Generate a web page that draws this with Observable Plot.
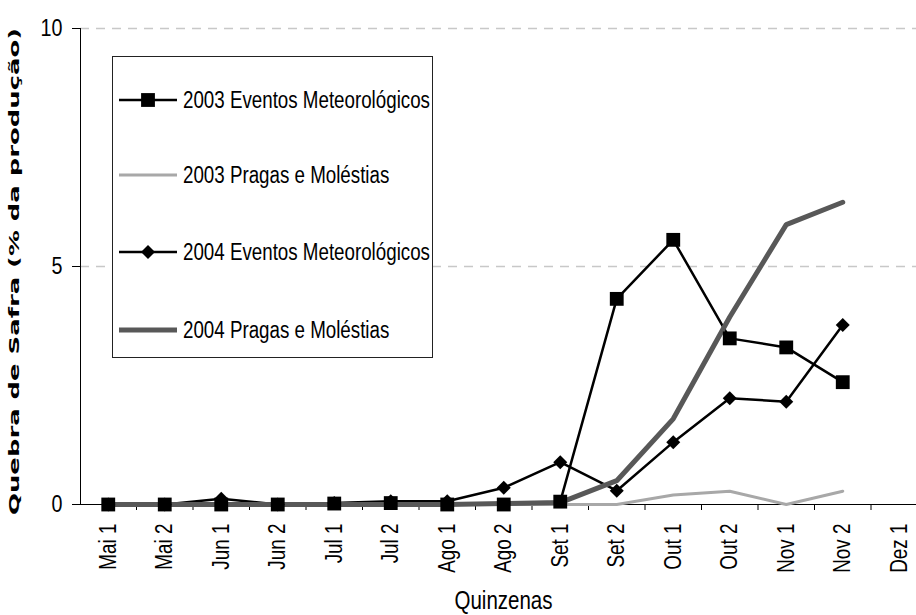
<!DOCTYPE html>
<html><head><meta charset="utf-8">
<script src="https://cdn.jsdelivr.net/npm/d3@7"></script>
<script src="https://cdn.jsdelivr.net/npm/@observablehq/plot@0.6"></script>
<style>
body{margin:0;overflow:hidden;background:#fff}
#wrap{position:relative;width:916px;height:615px;overflow:hidden}
#legend{position:absolute;left:112px;top:56px;overflow:visible}
</style></head><body><div id="wrap"></div>
<script>
const cats = ["Mai 1","Mai 2","Jun 1","Jun 2","Jul 1","Jul 2","Ago 1","Ago 2","Set 1","Set 2","Out 1","Out 2","Nov 1","Nov 2","Dez 1"];
const seriesNames = ["2003 Eventos Meteorológicos","2003 Pragas e Moléstias","2004 Eventos Meteorológicos","2004 Pragas e Moléstias"];
const ev2003 = [0,0,0,0,0.02,0.03,0,0,0.06,4.32,5.56,3.49,3.30,2.57];
const pr2003 = [0,0,0,0,0,0,0,0,0,0,0.2,0.28,0,0.28];
const ev2004 = [0,0,0.12,0,0.03,0.07,0.07,0.35,0.89,0.29,1.31,2.23,2.16,3.77];
const pr2004 = [0,0,0,0,0,0,0,0.02,0.04,0.5,1.8,3.94,5.88,6.35];
const yTicks = [0,5,10];
const yTitle = "Quebra de Safra (% da produção)";
const xTitle = "Quinzenas";

const FONT = '"Liberation Sans",Arial,sans-serif';
const NARROW = 0.82;
const styles = [
  {values: ev2003, stroke: "#000", width: 2.5, symbol: "square", r: 7.8},
  {values: pr2003, stroke: "#a8a8a8", width: 3, symbol: null},
  {values: ev2004, stroke: "#000", width: 2.5, symbol: "diamond2", r: 6.3},
  {values: pr2004, stroke: "#585858", width: 5, symbol: null}
];
const rows = [];
styles.forEach((s, k) => s.values.forEach((v, i) => rows.push({series: seriesNames[k], i, v})));

const lineMarks = styles.map((s, k) => Plot.line(rows.filter(d => d.series === seriesNames[k]),
  {x: "i", y: "v", stroke: s.stroke, strokeWidth: s.width, strokeLinejoin: "miter"}));
const dotMarks = styles.filter(s => s.symbol).map(s => {
  const k = styles.indexOf(s);
  return Plot.dot(rows.filter(d => d.series === seriesNames[k]),
    {x: "i", y: "v", symbol: () => s.symbol, r: s.r, fill: "#000", stroke: "none"});
});

const chart = Plot.plot({
  width: 916, height: 615, marginTop: 28, marginBottom: 111, marginLeft: 80, marginRight: 0,
  style: {fontFamily: FONT, fontSize: "23px", color: "#000", background: "#fff"},
  x: {type: "linear", domain: [-0.5, 14.5], range: [79.5, 927]},
  y: {domain: [0, 10], range: [504, 28]},
  symbol: {type: "identity"},
  marks: [
    Plot.gridY([5, 10], {stroke: "#c8c8c8", strokeOpacity: 1, strokeDasharray: "9,7", strokeWidth: 1.3}),
    Plot.frame({anchor: "left", stroke: "#000", strokeOpacity: 1}),
    Plot.frame({anchor: "bottom", stroke: "#000", strokeOpacity: 1}),
    Plot.axisY(yTicks, {tickSize: 8, tickPadding: 10, fontSize: 24, label: null}),
    Plot.axisX(d3.range(0.5, 15, 1), {tickSize: 6, tickFormat: () => "", label: null}),
    Plot.axisX(d3.range(cats.length), {tickSize: 0, tickRotate: -90, tickPadding: 19, tickFormat: i => cats[i], label: null, fontSize: 23}),
    ...lineMarks,
    ...dotMarks,
    Plot.text([yTitle], {frameAnchor: "left", rotate: -90, dx: -66, dy: 5, textAnchor: "middle", lineAnchor: "middle", fontWeight: "bold", fontFamily: "DejaVu Sans", fontSize: 14}),
    Plot.text([xTitle], {frameAnchor: "bottom", dx: 5, dy: 96, textAnchor: "middle", lineAnchor: "middle", fontSize: 25})
  ]
});
const wrap = document.getElementById("wrap");
wrap.appendChild(chart);

// legend
const lw = 321, lh = 302, rowY = [44, 119, 196, 274];
const leg = d3.select(wrap).append("svg").attr("id", "legend").attr("width", lw + 20).attr("height", lh + 2);
leg.append("rect").attr("x", 0.5).attr("y", 0.5).attr("width", lw - 1).attr("height", lh - 1).attr("fill", "#fff").attr("stroke", "#222");
seriesNames.forEach((name, k) => {
  const s = styles[k], y = rowY[k];
  leg.append("line").attr("x1", 7).attr("x2", 65).attr("y1", y).attr("y2", y).attr("stroke", s.stroke).attr("stroke-width", s.width);
  if (s.symbol) {
    const sym = s.symbol === "square" ? d3.symbolSquare : d3.symbolDiamond2;
    leg.append("path").attr("d", d3.symbol(sym, Math.PI * s.r * s.r)()).attr("transform", `translate(36,${y})`).attr("fill", "#000");
  }
  leg.append("text").attr("x", 71).attr("y", y).attr("dy", "0.35em").attr("font-family", FONT).attr("font-size", 23).text(name);
});

// condense Arial-metric text to a narrow face; stretch the bold y title
d3.select(wrap).selectAll("text").each(function() {
  const t = this.textContent;
  if (!t) return;
  if (t === yTitle) {
    d3.select(this).attr("textLength", 487).attr("lengthAdjust", "spacingAndGlyphs");
  } else {
    const len = this.getComputedTextLength();
    const f = this.closest("#legend") ? 0.815 : NARROW;
    d3.select(this).attr("textLength", len * f).attr("lengthAdjust", "spacingAndGlyphs");
  }
});
</script></body></html>
